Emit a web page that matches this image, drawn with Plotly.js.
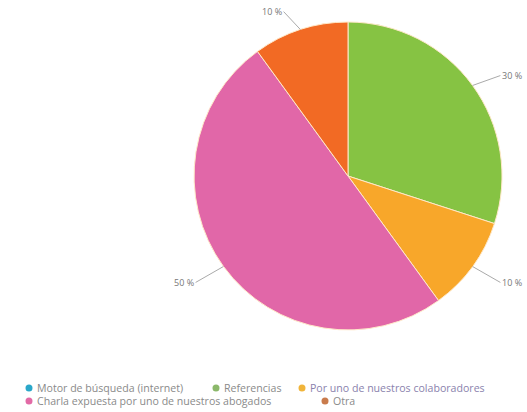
<!DOCTYPE html>
<html>
<head>
<meta charset="utf-8">
<script src="https://cdn.plot.ly/plotly-3.0.1.min.js"></script>
<style>html,body{margin:0;padding:0;background:#fff}#chart{width:527px;height:412px}</style>
</head>
<body>
<div id="chart"></div>
<script>
const categories = ["Motor de búsqueda (internet)", "Referencias", "Por uno de nuestros colaboradores", "Charla expuesta por uno de nuestros abogados", "Otra"];
const values = [0, 30, 10, 50, 10];
const sliceColors = ["#2aa7c9", "#86c343", "#f8a72a", "#e167a8", "#f26a24"];
const legendColors = ["#2aa7c9", "#8bb86a", "#f0b43a", "#e26aa6", "#c97b4c"];
const legendTextColors = ["#8a8a8a", "#8a8a8a", "#8a82ad", "#8a8a8a", "#8a8a8a"];

const W = 527, H = 412;
const cx = 348, cy = 176, R = 154;
const dom = {x: [(cx - R) / W, (cx + R) / W], y: [1 - (cy + R) / H, 1 - (cy - R) / H]};

const total = values.reduce((a, b) => a + b, 0);
const annotations = [];
const shapes = [];
let cum = 0;
values.forEach((v, i) => {
  if (v > 0) {
    const mid = (cum + v / 2) / total * 2 * Math.PI;
    const s = Math.sin(mid), c = Math.cos(mid);
    const px = cx + R * s, py = cy - R * c;
    const side = s >= 0 ? 1 : -1;
    annotations.push({
      x: px / W, y: 1 - py / H, xref: 'paper', yref: 'paper',
      text: Math.round(v / total * 100) + ' %',
      showarrow: true, arrowhead: 0, arrowwidth: 1, arrowcolor: '#aaa',
      ax: 22 * s + side * 10, ay: -22 * c + 3,
      xanchor: side > 0 ? 'left' : 'right', yanchor: 'middle',
      font: {family: 'Open Sans, sans-serif', size: 9, color: '#777'}
    });
  }
  cum += v;
});

// legend rows: coloured dots (shapes) + texts
const legendRow = [0, 0, 0, 1, 1];
const dotX = [29, 216, 302, 29, 325];
const legendY = [388, 401];
const dotR = 3.5;
categories.forEach((cat, i) => {
  const y = legendY[legendRow[i]];
  shapes.push({
    type: 'circle', xref: 'paper', yref: 'paper',
    x0: (dotX[i] - dotR) / W, x1: (dotX[i] + dotR) / W,
    y0: 1 - (y + dotR) / H, y1: 1 - (y - dotR) / H,
    fillcolor: legendColors[i], line: {width: 0}
  });
  annotations.push({
    x: (dotX[i] + 7) / W, y: 1 - y / H, xref: 'paper', yref: 'paper',
    xanchor: 'left', yanchor: 'middle', showarrow: false, borderpad: 0,
    text: cat,
    font: {family: 'Open Sans, sans-serif', size: 10.6, color: legendTextColors[i]}
  });
});

const data = [{
  type: 'pie',
  labels: categories,
  values: values,
  sort: false,
  direction: 'clockwise',
  rotation: 0,
  marker: {colors: sliceColors, line: {color: '#ffe9c9', width: 1}},
  textinfo: 'none',
  hoverinfo: 'label+percent',
  showlegend: false,
  domain: dom
}];

const layout = {
  width: W, height: H,
  margin: {l: 0, r: 0, t: 0, b: 0},
  paper_bgcolor: '#fff',
  showlegend: false,
  annotations: annotations,
  shapes: shapes
};

Plotly.newPlot('chart', data, layout, {displayModeBar: false, staticPlot: true});
</script>
</body>
</html>
